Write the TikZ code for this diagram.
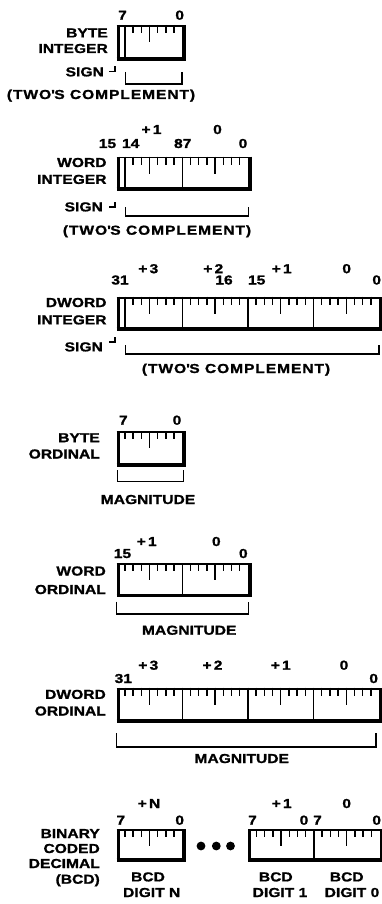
\documentclass[tikz,border=0pt]{standalone}
\usepackage{fontspec}
\newfontfamily\lab[FakeStretch=1.2,FakeBold=1.2]{Liberation Sans}
\begin{document}
\begin{tikzpicture}[x=1pt,y=-1pt,
  lb/.style={font=\lab\bfseries\fontsize{13}{15}\selectfont,inner sep=0pt,anchor=base},
  lr/.style={lb,anchor=base east},
  wide/.style={font=\lab\bfseries\fontsize{13}{15}\selectfont\addfontfeature{LetterSpace=7}},
  tickln/.style={line width=1.5pt},
  sepln/.style={line width=1.6pt},
  brk/.style={line width=1.5pt},
  topln/.style={line width=1.8pt},
  leftln/.style={line width=2.8pt},
  heavy/.style={line width=3.8pt}]
\useasboundingbox (0,0) rectangle (381,904);
\def\bw{8.2}
% #1 left, #2 top, #3 bits, #4 height, #5 sign flag
\newcommand\regbox[5]{%
  \begin{scope}[shift={(#1,#2)}]
  \pgfmathsetmacro\rgW{#3*\bw}
  \pgfmathtruncatemacro\rgN{#3-1}
  \foreach \i in {1,...,\rgN} {
    \pgfmathsetmacro\tx{\i*\bw}
    \pgfmathtruncatemacro\mE{mod(\i,8)}
    \pgfmathtruncatemacro\mF{mod(\i,4)}
    \pgfmathtruncatemacro\isS{(\i==1)*#5}
    \ifnum\isS=1 \draw[sepln] (\tx,0) -- (\tx,#4);
    \else\ifnum\mE=0 \draw[sepln] (\tx,0) -- (\tx,#4);
    \else\ifnum\mF=0 \draw[tickln] (\tx,0) -- (\tx,17);
    \else \draw[tickln] (\tx,0) -- (\tx,8);\fi\fi\fi
  }
  \draw[topln] (0,0.9) -- (\rgW+1.9,0.9);
  \draw[leftln] (1.4,0) -- (1.4,#4);
  \draw[heavy] (\rgW+1.9,0) -- (\rgW+1.9,#4);
  \draw[heavy] (0,#4-1.9) -- (\rgW+3.8,#4-1.9);
  \end{scope}}

% ---------- BYTE INTEGER ----------
\regbox{116.7}{25}{8}{36}{1}
\node[lb] (bi7) at (122.5,19.7) {7};
\node[lb] (bi0) at (179.7,19.7) {0};
\node[lr] (biA) at (108,37.4) {BYTE};
\node[lr] (biB) at (108,53.0) {INTEGER};
\node[lr] (biS) at (104,76.4) {SIGN};
\draw[brk] (109,71.5) -- (115,71.5) -- (115,66.5);
\draw[brk] (125.5,72) -- (125.5,84) -- (182,84) -- (182,72);
\node[lb,wide] (biT) at (101,99) {(TWO\textquotesingle S COMPLEMENT)};

% ---------- WORD INTEGER ----------
\regbox{116.7}{156.7}{16}{34}{1}
\node[lb] (wiP1) at (151.5,134) {+\,1};
\node[lb] (wiP0) at (217.5,134) {0};
\node[lb] (wi15) at (107.5,148) {15};
\node[lb] (wi14) at (130.7,148) {14};
\node[lb] (wi87) at (182.7,148) {87};
\node[lb] (wi0) at (243,148) {0};
\node[lr] (wiA) at (106.7,167) {WORD};
\node[lr] (wiB) at (106.7,183.9) {INTEGER};
\node[lr] (wiS) at (103,211.4) {SIGN};
\draw[brk] (109,207) -- (115,207) -- (115,202);
\draw[brk] (125.5,207) -- (125.5,216) -- (248.3,216) -- (248.3,207);
\node[lb,wide] (wiT) at (157,234.7) {(TWO\textquotesingle S COMPLEMENT)};

% ---------- DWORD INTEGER ----------
\regbox{116.7}{296.7}{32}{34}{1}
\node[lb] (diP3) at (148.3,273.2) {+\,3};
\node[lb] (diP2) at (213.3,273.2) {+\,2};
\node[lb] (diP1) at (281.7,273.2) {+\,1};
\node[lb] (diP0) at (346.7,273.2) {0};
\node[lb] (di31) at (120,284.5) {31};
\node[lb] (di16) at (224,284.5) {16};
\node[lb] (di15) at (256.7,284.5) {15};
\node[lb] (di0) at (376.7,284.5) {0};
\node[lr] (diA) at (106.7,307) {DWORD};
\node[lr] (diB) at (106.7,324.4) {INTEGER};
\node[lr] (diS) at (103,351.4) {SIGN};
\draw[brk] (109,342) -- (115,342) -- (115,337);
\draw[brk] (125.5,345) -- (125.5,354) -- (379,354) -- (379,345);
\node[lb,wide] (diT) at (236,373) {(TWO\textquotesingle S COMPLEMENT)};

% ---------- BYTE ORDINAL ----------
\regbox{116.7}{431}{8}{35.7}{0}
\node[lb] (bo7) at (123.3,424.7) {7};
\node[lb] (bo0) at (177,424.7) {0};
\node[lr] (boA) at (100,442.2) {BYTE};
\node[lr] (boB) at (100,458.5) {ORDINAL};
\draw[brk] (117.3,470) -- (117.3,481.7) -- (183.3,481.7) -- (183.3,470);
\node[lb] (boM) at (148,504) {MAGNITUDE};

% ---------- WORD ORDINAL ----------
\regbox{116.7}{563.3}{16}{34}{0}
\node[lb] (woP1) at (146.7,546) {+\,1};
\node[lb] (woP0) at (216.3,546) {0};
\node[lb] (wo15) at (122.5,558) {15};
\node[lb] (wo0) at (243.3,558) {0};
\node[lr] (woA) at (106,575.5) {WORD};
\node[lr] (woB) at (106,594) {ORDINAL};
\draw[brk] (116.5,601.7) -- (116.5,614) -- (248.3,614) -- (248.3,601.7);
\node[lb] (woM) at (189.2,634.7) {MAGNITUDE};

% ---------- DWORD ORDINAL ----------
\regbox{116.7}{687.7}{32}{35}{0}
\node[lb] (doP3) at (148.3,669.7) {+\,3};
\node[lb] (doP2) at (212.5,669.7) {+\,2};
\node[lb] (doP1) at (280.8,669.7) {+\,1};
\node[lb] (doP0) at (344,669.7) {0};
\node[lb] (do31) at (123.3,683) {31};
\node[lb] (do0) at (373.7,683) {0};
\node[lr] (doA) at (106,698.9) {DWORD};
\node[lr] (doB) at (106,715.5) {ORDINAL};
\draw[brk] (116.5,733.3) -- (116.5,747) -- (376,747) -- (376,733.3);
\node[lb] (doM) at (241.7,763) {MAGNITUDE};

% ---------- BCD ----------
\regbox{116.7}{829.3}{8}{32.4}{0}
\regbox{248.3}{829.3}{16}{32.4}{0}
\node[lb] (bcPN) at (149,808) {+\,N};
\node[lb] (bcP1) at (281.7,808) {+\,1};
\node[lb] (bcP0) at (346.7,808) {0};
\node[lb] (bcA7) at (120.8,824.7) {7};
\node[lb] (bcA0) at (179.7,824.7) {0};
\node[lb] (bcB7) at (252.5,824.7) {7};
\node[lb] (bcB0) at (304,824.7) {0};
\node[lb] (bcC7) at (317.5,824.7) {7};
\node[lb] (bcC0) at (376.7,824.7) {0};
\node[lr] (bcL1) at (100,838) {BINARY};
\node[lr] (bcL2) at (100,853) {CODED};
\node[lr] (bcL3) at (100,868) {DECIMAL};
\node[lr] (bcL4) at (100,883.7) {(BCD)};
\fill (201,846) circle (4.4) (216.3,846) circle (4.4) (230.5,846) circle (4.4);
\node[lb] (bcDa) at (148,881.4) {BCD};
\node[lb] (bcDb) at (151.7,897) {DIGIT N};
\node[lb] (bcEa) at (275.8,881.4) {BCD};
\node[lb] (bcEb) at (280,897) {DIGIT 1};
\node[lb] (bcFa) at (346.7,881.4) {BCD};
\node[lb] (bcFb) at (352,897) {DIGIT 0};
\end{tikzpicture}
\end{document}
